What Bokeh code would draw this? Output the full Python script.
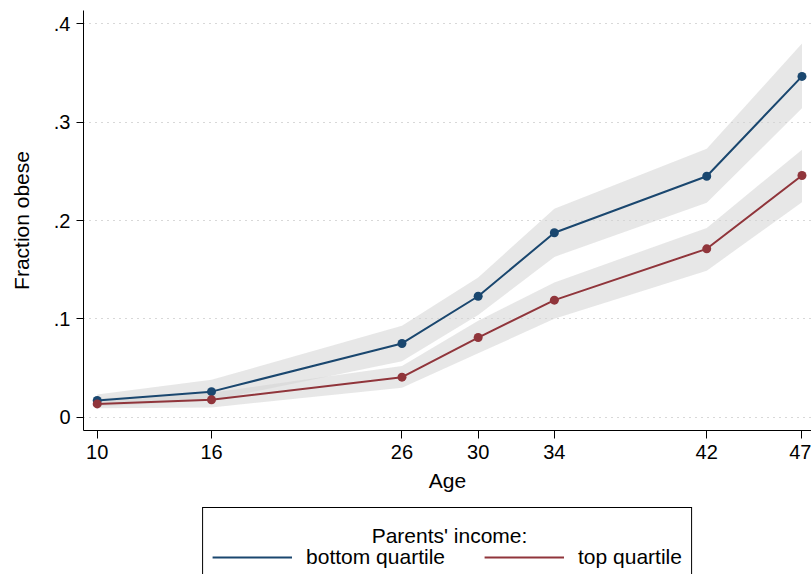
from bokeh.plotting import figure
from bokeh.models import FixedTicker, Legend, LegendItem, Label, Range1d
from bokeh.layouts import column
from bokeh.embed import file_html
from bokeh.resources import INLINE

# ---- data ----
ages = [10, 16, 26, 30, 34, 42, 47]
bottom_q = [0.017, 0.026, 0.075, 0.123, 0.1875, 0.245, 0.3465]
bottom_lo = [0.011, 0.017, 0.057, 0.104, 0.163, 0.218, 0.314]
bottom_hi = [0.023, 0.038, 0.093, 0.142, 0.212, 0.273, 0.380]
top_q = [0.0135, 0.0178, 0.0407, 0.081, 0.119, 0.1712, 0.2458]
top_lo = [0.009, 0.010, 0.030, 0.065, 0.100, 0.149, 0.2185]
top_hi = [0.019, 0.025, 0.052, 0.098, 0.137, 0.1925, 0.272]
y_ticks = [0, 0.1, 0.2, 0.3, 0.4]
y_tick_labels = ["0", ".1", ".2", ".3", ".4"]
series_names = ["bottom quartile", "top quartile"]
legend_title = "Parents' income:"

FONT = "Liberation Sans"
BLUE = "#1a476f"
RED = "#90353b"

p = figure(width=811, height=500, output_backend="svg", toolbar_location=None,
           x_range=Range1d(9.28, 47.5), y_range=Range1d(-0.0135, 0.4135),
           min_border_left=83, min_border_right=0, min_border_top=10,
           min_border_bottom=70)
p.outline_line_color = None
p.background_fill_color = "white"
p.border_fill_color = "white"

# confidence bands
p.varea(x=ages, y1=bottom_lo, y2=bottom_hi, fill_color="#d4d4d4", fill_alpha=0.55)
p.varea(x=ages, y1=top_lo, y2=top_hi, fill_color="#d4d4d4", fill_alpha=0.55)

p.line(ages, bottom_q, line_color=BLUE, line_width=2)
p.line(ages, top_q, line_color=RED, line_width=2)
p.scatter(ages, bottom_q, size=9, fill_color=BLUE, line_color=None)
p.scatter(ages, top_q, size=9, fill_color=RED, line_color=None)

# axes
p.xaxis.ticker = FixedTicker(ticks=ages)
p.yaxis.ticker = FixedTicker(ticks=y_ticks)
p.yaxis.major_label_overrides = {t: l for t, l in zip(y_ticks, y_tick_labels)}
for ax in (p.xaxis[0], p.yaxis[0]):
    ax.minor_tick_line_color = None
    ax.major_tick_in = 0
    ax.axis_line_color = "black"
    ax.major_tick_line_color = "black"
    ax.major_label_text_font = FONT
    ax.major_label_text_font_size = "20px"
    ax.major_label_text_color = "black"
    ax.axis_label_text_font = FONT
    ax.axis_label_text_font_size = "21px"
    ax.axis_label_text_font_style = "normal"
    ax.axis_label_text_color = "black"

p.xaxis.axis_label = "Age"
p.xaxis.major_tick_out = 8
p.xaxis.major_label_standoff = 6
p.xaxis.axis_label_standoff = 7

p.yaxis.axis_label = "Fraction obese"
p.yaxis.major_tick_out = 7
p.yaxis.major_label_standoff = 6
p.yaxis.axis_label_standoff = 18
p.yaxis.major_label_orientation = "horizontal"

p.xgrid.grid_line_color = None
p.ygrid.grid_line_color = "#b0b0b0"
p.ygrid.grid_line_dash = "1 5"
p.ygrid.grid_line_width = 1

# ---- legend strip below the chart ----
q = figure(width=811, height=74, output_backend="svg", toolbar_location=None,
           x_range=Range1d(83, 811), y_range=Range1d(74, 0),
           min_border_left=83, min_border_right=0, min_border_top=0,
           min_border_bottom=0)
q.axis.visible = False
q.grid.visible = False
q.outline_line_color = None
q.background_fill_color = "white"
q.border_fill_color = "white"

# key renderers (their data lie outside this strip's ranges, only the legend shows them)
kb = q.line(ages, bottom_q, line_color=BLUE, line_width=2)
kt = q.line(ages, top_q, line_color=RED, line_width=2)

legend = Legend(
    items=[LegendItem(label=series_names[0], renderers=[kb]),
           LegendItem(label=series_names[1], renderers=[kt])],
    orientation="horizontal", location="top_center",
    title=legend_title, title_text_alpha=0.0,
    title_text_font=FONT, title_text_font_size="21px", title_standoff=4,
    label_text_font=FONT, label_text_font_size="21px", label_text_color="black",
    glyph_width=80, glyph_height=20, label_standoff=14, spacing=39,
    padding=9, margin=7, border_line_color="black", border_line_alpha=1.0,
    border_line_width=1, background_fill_alpha=0.0,
)
q.add_layout(legend)

q.add_layout(Label(x=449, y=35, text=legend_title, text_align="center",
                   text_baseline="alphabetic", text_font=FONT,
                   text_font_size="21px", text_color="black"))

layout = column(p, q, spacing=0)
open("out.html", "w").write(file_html(layout, INLINE))
